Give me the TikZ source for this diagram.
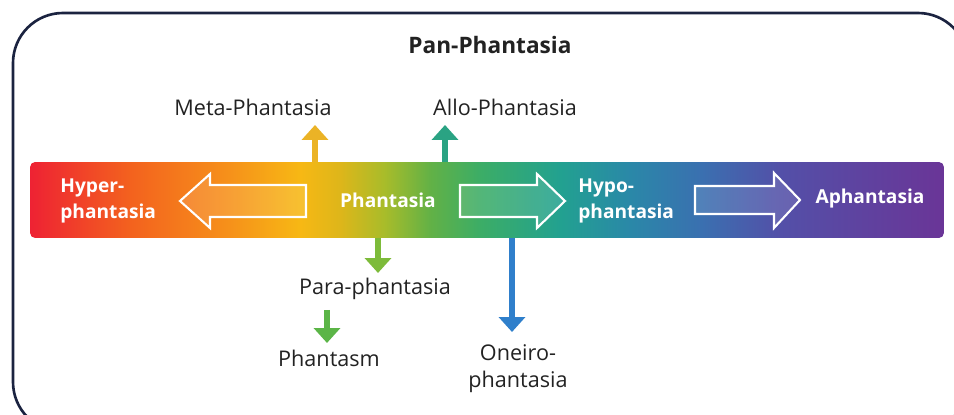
\documentclass[tikz,border=0pt]{standalone}
\usepackage{fontspec}
\setmainfont{Open Sans}
\usepackage{xcolor}
\usetikzlibrary{arrows.meta}

\definecolor{frameblue}{HTML}{1B2340}
\definecolor{inkgray}{HTML}{222222}
\definecolor{metayellow}{HTML}{EBB326}
\definecolor{alloteal}{HTML}{2AA383}
\definecolor{paragreen}{HTML}{7DBB3A}
\definecolor{msmgreen}{HTML}{5BB547}
\definecolor{oneiroblue}{HTML}{2F7FCB}

\definecolor{sp0}{HTML}{EE2233}
\definecolor{sp1}{HTML}{F3621E}
\definecolor{sp2}{HTML}{F6921A}
\definecolor{sp3}{HTML}{F7B814}
\definecolor{sp4}{HTML}{DDB61A}
\definecolor{sp5}{HTML}{A8BC2A}
\definecolor{sp6}{HTML}{62B146}
\definecolor{sp7}{HTML}{3CAD66}
\definecolor{sp8}{HTML}{22A190}
\definecolor{sp9}{HTML}{2A88A8}
\definecolor{sp10}{HTML}{3A70B0}
\definecolor{sp11}{HTML}{5350A8}
\definecolor{sp12}{HTML}{6A3597}

% spectrum along the bar (the path box maps to 25bp..75bp)
\pgfdeclarehorizontalshading{spectrum}{100bp}{%
  color(0bp)=(sp0); color(25bp)=(sp0);
  color(30.5bp)=(sp1); color(36bp)=(sp2);
  color(39.8bp)=(sp3); color(42bp)=(sp4);
  color(44.4bp)=(sp5); color(46.9bp)=(sp6);
  color(49.6bp)=(sp7); color(54bp)=(sp8);
  color(57.8bp)=(sp9); color(61.7bp)=(sp10);
  color(66bp)=(sp11); color(75bp)=(sp12);
  color(100bp)=(sp12)}

\begin{document}
\begin{tikzpicture}[x=0.02cm, y=-0.02cm,
    lbl/.style={text=inkgray, font=\fontsize{12.3}{15.3}\selectfont, inner sep=0pt},
    inbar/.style={text=white, font=\bfseries\fontsize{10.9}{15.3}\selectfont, inner sep=0pt},
    hollow/.style={draw=white, line width=1.2pt, fill=white, fill opacity=0.12, line join=miter},
    fat/.style={line width=3.2pt, -{Triangle[width=0.52cm, length=0.3cm]}}]
    \useasboundingbox (0,0) rectangle (954,415);
    \clip (0,0) rectangle (954,415);

    \draw[frameblue, line width=1.5pt, rounded corners=1cm] (13,13) rectangle (968,432);

    \node (bar) at (487,200) [shade, shading=spectrum, rounded corners=0.1cm,
        minimum width=18.28cm, minimum height=1.52cm, inner sep=0pt] {};

    % hollow arrows inside the bar
    \draw[hollow] (306,185) -- (210,185) -- (210,174) -- (180,201) -- (210,228) -- (210,217) -- (306,217) -- cycle;
    \draw[hollow] (460,185) -- (537,185) -- (537,174) -- (565,201) -- (537,228) -- (537,217) -- (460,217) -- cycle;
    \draw[hollow] (695,186) -- (774,186) -- (774,173) -- (800,200) -- (774,228) -- (774,214) -- (695,214) -- cycle;

    \node (title) at (490,45) [lbl, font=\bfseries\fontsize{12.9}{16}\selectfont] {Pan-Phantasia};
    \node (meta) at (253,107) [lbl] {Meta-Phantasia};
    \node (allo) at (505,107) [lbl] {Allo-Phantasia};
    \node (hyper) at (60,201) [inbar, anchor=west, align=left] {Hyper-\\phantasia};
    \node (phan) at (388,200) [inbar] {Phantasia};
    \node (hypo) at (578,201) [inbar, anchor=west, align=left] {Hypo-\\phantasia};
    \node (aphan) at (870,199) [inbar] {Aphantasia};
    \node (para) at (375,289) [lbl] {Para-phantasia};
    \node (phantasm) at (329,358) [lbl] {Phantasm};
    \node (oneiro) at (518,369) [lbl, align=center] {Oneiro-\\phantasia};

    \coordinate (metaTip) at (315,125);
    \coordinate (alloTip) at (445,125);
    \coordinate (paraTip) at (378,273);
    \coordinate (msmFrom) at (327,310);
    \coordinate (msmTip) at (327,343);
    \coordinate (oneiroTip) at (512,332);

    \draw[fat, metayellow] (metaTip |- bar.north) -- (metaTip);
    \draw[fat, alloteal] (alloTip |- bar.north) -- (alloTip);
    \draw[fat, paragreen] (paraTip |- bar.south) -- (paraTip);
    \draw[fat, msmgreen] (msmFrom) -- (msmTip);
    \draw[fat, oneiroblue] (oneiroTip |- bar.south) -- (oneiroTip);
\end{tikzpicture}
\end{document}
